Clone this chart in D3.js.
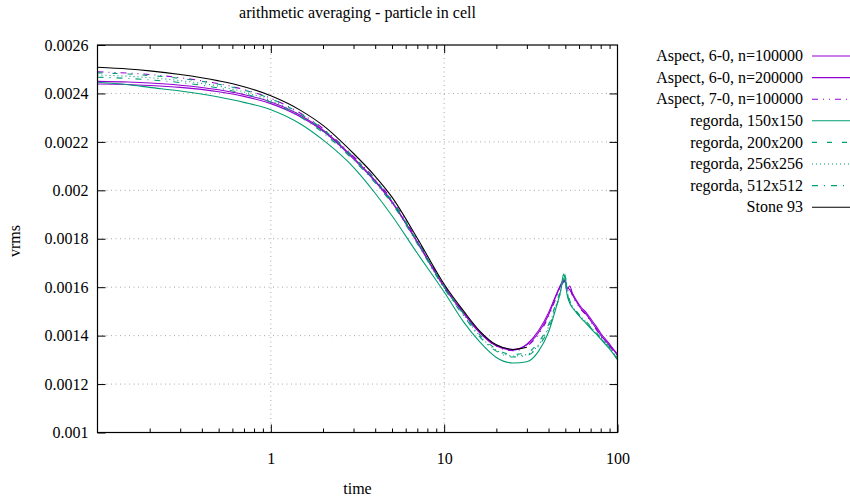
<!DOCTYPE html>
<html>
<head>
<meta charset="utf-8">
<script src="https://cdn.jsdelivr.net/npm/d3@7"></script>
<style>
  html, body { margin: 0; padding: 0; background: #fff; }
  svg text { font-family: "Liberation Serif", "DejaVu Serif", serif; font-size: 16px; fill: #000; }
</style>
</head>
<body>
<svg id="chart" width="850" height="500"></svg>
<script>
// ---------- data ----------
const title = "arithmetic averaging - particle in cell";
const xLabel = "time";
const yLabel = "vrms";

const time = [0.1,0.15,0.2,0.3,0.5,0.7,1,1.5,2,3,4,5,7,10,13,16,20,25,30,35,40,44,47,49,50,51,53,55,58,62,66,70,75,80,90,100];

const aspect60n100k = [0.002439,0.002437,0.002433,0.002425,0.002407,0.002388,0.002358,0.002302,0.002245,0.002130,0.002036,0.001950,0.001784,0.001600,0.001490,0.001412,0.001357,0.001340,0.001365,0.001420,0.001495,0.001565,0.001610,0.001630,0.001625,0.001590,0.001605,0.001575,0.001545,0.001515,0.001495,0.001470,0.001440,0.001410,0.001365,0.001318];
const aspect60n200k = [0.002450,0.002447,0.002443,0.002434,0.002415,0.002395,0.002365,0.002308,0.002249,0.002134,0.002040,0.001954,0.001788,0.001604,0.001493,0.001415,0.001360,0.001343,0.001362,0.001412,0.001485,0.001560,0.001605,0.001622,0.001628,0.001600,0.001590,0.001568,0.001540,0.001508,0.001488,0.001462,0.001432,0.001402,0.001360,0.001325];
const aspect70n100k = [0.002489,0.002484,0.002478,0.002465,0.002440,0.002416,0.002380,0.002316,0.002255,0.002140,0.002046,0.001960,0.001794,0.001606,0.001494,0.001414,0.001356,0.001338,0.001356,0.001405,0.001478,0.001552,0.001600,0.001625,0.001620,0.001580,0.001598,0.001565,0.001535,0.001505,0.001485,0.001458,0.001428,0.001398,0.001355,0.001320];
const regorda150 = [0.002446,0.002436,0.002425,0.002410,0.002385,0.002363,0.002333,0.002272,0.002208,0.002095,0.001988,0.001895,0.001740,0.001580,0.001455,0.001375,0.001310,0.001287,0.001292,0.001335,0.001415,0.001510,0.001585,0.001655,0.001625,0.001575,0.001535,0.001515,0.001495,0.001470,0.001450,0.001430,0.001408,0.001385,0.001345,0.001300];
const regorda200 = [0.002485,0.002480,0.002474,0.002462,0.002438,0.002414,0.002378,0.002314,0.002252,0.002138,0.002044,0.001957,0.001790,0.001602,0.001488,0.001404,0.001345,0.001322,0.001330,0.001372,0.001445,0.001530,0.001590,0.001640,0.001645,0.001600,0.001545,0.001525,0.001500,0.001478,0.001458,0.001438,0.001415,0.001392,0.001352,0.001305];
const regorda256 = [0.002476,0.002471,0.002465,0.002453,0.002430,0.002406,0.002371,0.002307,0.002244,0.002130,0.002037,0.001950,0.001785,0.001598,0.001484,0.001400,0.001340,0.001316,0.001322,0.001362,0.001436,0.001522,0.001585,0.001645,0.001650,0.001595,0.001540,0.001520,0.001497,0.001475,0.001455,0.001435,0.001412,0.001390,0.001350,0.001303];
const regorda512 = [0.002467,0.002462,0.002456,0.002445,0.002422,0.002399,0.002364,0.002300,0.002238,0.002124,0.002031,0.001945,0.001780,0.001595,0.001480,0.001396,0.001336,0.001312,0.001318,0.001356,0.001428,0.001515,0.001580,0.001660,0.001645,0.001590,0.001538,0.001518,0.001495,0.001473,0.001453,0.001433,0.001410,0.001388,0.001348,0.001302];
const stone93 = [0.002508,0.002501,0.002493,0.002478,0.002452,0.002428,0.002390,0.002328,0.002268,0.002152,0.002058,0.001972,0.001802,0.001612,0.001500,0.001420,0.001362,0.001343,0.001352];

const seriesNames = ["Aspect, 6-0, n=100000","Aspect, 6-0, n=200000","Aspect, 7-0, n=100000","regorda, 150x150","regorda, 200x200","regorda, 256x256","regorda, 512x512","Stone 93"];
const seriesValues = [aspect60n100k, aspect60n200k, aspect70n100k, regorda150, regorda200, regorda256, regorda512, stone93];

const xTickValues = [1, 10, 100];
const xTickLabels = ["1", "10", "100"];
const yTickValues = [0.001,0.0012,0.0014,0.0016,0.0018,0.002,0.0022,0.0024,0.0026];
const yTickLabels = ["0.001","0.0012","0.0014","0.0016","0.0018","0.002","0.0022","0.0024","0.0026"];

// ---------- styles ----------
const purple = "#9400d3", green = "#009e73";
const styles = [
  {color: purple, dash: null},
  {color: purple, dash: null},
  {color: purple, dash: "6,5,1,5,1,5"},
  {color: green, dash: null},
  {color: green, dash: "5,10"},
  {color: green, dash: "1,3"},
  {color: green, dash: "6,6,1,6"},
  {color: "#000", dash: null}
];

// ---------- layout ----------
const svg = d3.select("#chart");
const L = 97.5, R = 617.5, T = 45, B = 432.5;

const x = d3.scaleLog().domain([0.1, 100]).range([L, R]);
const y = d3.scaleLinear().domain([0.001, 0.0026]).range([B, T]);

// grid
const grid = svg.append("g").attr("stroke", "#a8a8a8").attr("stroke-width", 1).attr("stroke-dasharray", "1,3.5");
xTickValues.filter(v => v > 0.1 && v < 100).forEach(v => {
  grid.append("line").attr("x1", x(v)).attr("x2", x(v)).attr("y1", B).attr("y2", T);
});
yTickValues.filter(v => v > 0.001 && v < 0.0026).forEach(v => {
  grid.append("line").attr("x1", L).attr("x2", R).attr("y1", y(v)).attr("y2", y(v));
});

// data lines
const plot = svg.append("g");
const line = d3.line()
  .defined(d => d[1] != null)
  .x(d => x(d[0]))
  .y(d => y(d[1]))
  .curve(d3.curveMonotoneX);

seriesValues.forEach((vals, i) => {
  const pts = vals.map((v, j) => [time[j], v]);
  plot.append("path")
    .attr("d", line(pts))
    .attr("fill", "none")
    .attr("stroke", styles[i].color)
    .attr("stroke-width", 1.1)
    .attr("stroke-dasharray", styles[i].dash);
});

// axes (ticks inward, mirrored)
const minorX = [];
[0.1, 1, 10].forEach(d => { for (let k = 2; k <= 9; k++) minorX.push(d * k); });
const majorX = [1, 10];

function drawAxis(gen, transform) {
  const g = svg.append("g").attr("transform", transform).call(gen);
  g.select(".domain").remove();
  g.selectAll("line").attr("stroke", "#000").attr("stroke-width", 1);
  return g;
}

// bottom major with labels
const bottom = drawAxis(d3.axisBottom(x).tickValues(xTickValues).tickFormat((d, i) => xTickLabels[i]).tickSizeInner(-8).tickSizeOuter(0).tickPadding(20), `translate(0,${B})`);
bottom.selectAll("text").attr("font-family", "Liberation Serif").attr("font-size", 16).attr("fill", "#000");
drawAxis(d3.axisBottom(x).tickValues(minorX).tickFormat("").tickSizeInner(-4).tickSizeOuter(0), `translate(0,${B})`);
// top
drawAxis(d3.axisTop(x).tickValues(majorX).tickFormat("").tickSizeInner(-8).tickSizeOuter(0), `translate(0,${T})`);
drawAxis(d3.axisTop(x).tickValues(minorX).tickFormat("").tickSizeInner(-4).tickSizeOuter(0), `translate(0,${T})`);
// left
const left = drawAxis(d3.axisLeft(y).tickValues(yTickValues).tickFormat((d, i) => yTickLabels[i]).tickSizeInner(-8).tickSizeOuter(0).tickPadding(9), `translate(${L},0)`);
left.selectAll("text").attr("font-family", "Liberation Serif").attr("font-size", 16).attr("fill", "#000");
// right
drawAxis(d3.axisRight(y).tickValues(yTickValues.slice(1, -1)).tickFormat("").tickSizeInner(-8).tickSizeOuter(0), `translate(${R},0)`);

// border
svg.append("rect").attr("x", L).attr("y", T).attr("width", R - L).attr("height", B - T)
  .attr("fill", "none").attr("stroke", "#000").attr("stroke-width", 1.2);

// title and axis labels
svg.append("text").attr("x", (L + R) / 2).attr("y", 18).attr("text-anchor", "middle").text(title);
svg.append("text").attr("x", (L + R) / 2).attr("y", 494).attr("text-anchor", "middle").text(xLabel);
svg.append("text").attr("transform", "translate(20,241) rotate(-90)").attr("text-anchor", "middle").text(yLabel);

// legend
const lg = svg.append("g");
seriesNames.forEach((name, i) => {
  const yy = 56 + i * 21.6;
  lg.append("text").attr("x", 803).attr("y", yy).attr("dy", "0.33em").attr("text-anchor", "end").text(name);
  lg.append("line").attr("x1", 812).attr("x2", 850).attr("y1", yy).attr("y2", yy)
    .attr("stroke", styles[i].color).attr("stroke-width", 1.1).attr("stroke-dasharray", styles[i].dash);
});
</script>
</body>
</html>
